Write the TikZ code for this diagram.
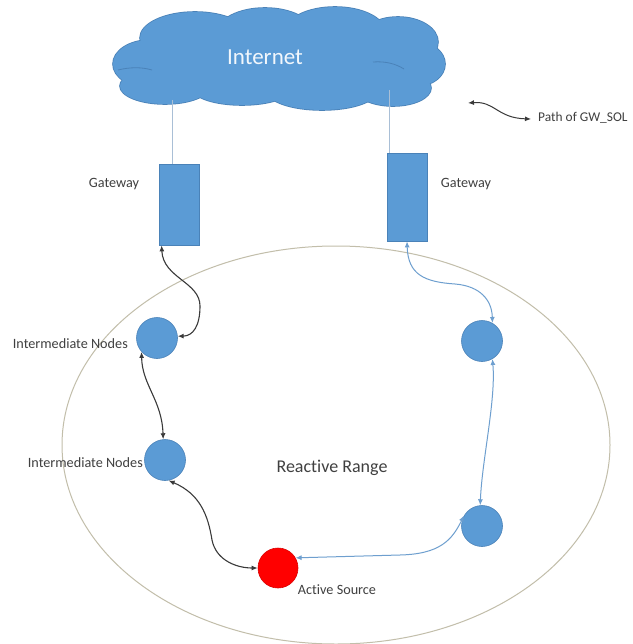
\documentclass[tikz,border=0pt]{standalone}
\usepackage{fontspec}
\setmainfont[Ligatures=NoCommon]{Carlito}
\usetikzlibrary{arrows.meta}
\definecolor{obl}{HTML}{5B9BD5}
\definecolor{obd}{HTML}{4A82B8}
\definecolor{lnk}{HTML}{6E9FCF}
\definecolor{txt}{HTML}{404040}
\definecolor{rng}{HTML}{C2BEAA}
\definecolor{cl}{HTML}{A9BFD6}
\definecolor{blk}{HTML}{3A3A3A}
\tikzset{
  gw/.style={rectangle,fill=obl,draw=obd,line width=0.8pt,minimum width=40pt,inner sep=0pt},
  hop/.style={circle,fill=obl,draw=obd,line width=0.6pt,minimum size=41pt,inner sep=0pt},
  src/.style={circle,fill=red,draw=red!85!black,line width=0.6pt,minimum size=40pt,inner sep=0pt},
  lbl/.style={font=\fontsize{14.2}{15}\selectfont,text=txt,inner sep=0pt},
  blkarr/.style={draw=blk,line width=1.1pt,{Latex[length=6pt,width=5pt]}-{Latex[length=6pt,width=5pt]}},
  bluarr/.style={draw=lnk,line width=1pt,{Latex[length=6pt,width=5pt]}-{Latex[length=6pt,width=5pt]}},
  upl/.style={draw=cl,line width=1pt}
}
\newcommand{\cloudlobes}[1]{%
  \path[#1] (150,64) ellipse [x radius=37, y radius=24];
  \path[#1] (165,86) ellipse [x radius=45, y radius=18];
  \path[#1] (195,38) ellipse [x radius=55, y radius=26];
  \path[#1] (265,33) ellipse [x radius=48, y radius=25];
  \path[#1] (335,32) ellipse [x radius=50, y radius=25];
  \path[#1] (398,42) ellipse [x radius=40, y radius=25];
  \path[#1] (417,64) ellipse [x radius=28, y radius=22];
  \path[#1] (393,88) ellipse [x radius=38, y radius=18];
  \path[#1] (322,91) ellipse [x radius=55, y radius=19];
  \path[#1] (242,88) ellipse [x radius=50, y radius=17];
  \path[#1] (280,62) ellipse [x radius=125, y radius=34];
}
\begin{document}
\begin{tikzpicture}[x=1pt,y=-1pt]
\useasboundingbox (0,0) rectangle (632,644);
\fill[white] (0,0) rectangle (632,644);
% reactive range
\draw[rng,line width=1pt] (336,445) ellipse [x radius=274, y radius=199];
% cloud
\cloudlobes{draw=obd,line width=1.6pt}
\cloudlobes{fill=obl}
\draw[obd,line width=0.8pt] (118,70) .. controls (130,67) and (142,67) .. (152,70);
\draw[obd,line width=0.8pt] (373,62) .. controls (386,61) and (396,64) .. (404,69);
\node[font=\fontsize{23}{24}\selectfont,text=white!92!obl,inner sep=0pt] (inet) at (265,57) {Internet};
% gateways
\node[gw,minimum height=81pt] (gwL) at (179,204.5) {};
\node[gw,minimum height=88pt] (gwR) at (407,197) {};
\coordinate (cL) at (172,100);
\coordinate (cR) at (389,90);
\draw[upl] (cL) -- (cL |- gwL.north);
\draw[upl] (cR) -- (cR |- gwR.north);
\node[lbl] (tgL) at (114,184) {Gateway};
\node[lbl] (tgR) at (466,184) {Gateway};
% hops
\node[hop] (in1) at (157,338) {};
\node[hop] (in2) at (165,460) {};
\node[hop] (rt) at (482,341) {};
\node[hop] (rb) at (482,526) {};
\node[src] (as) at (278,568) {};
\node[lbl,anchor=east] (tin1) at (128,344) {Intermediate Nodes};
\node[lbl,anchor=east] (tin2) at (143,463) {Intermediate Nodes};
\node[font=\fontsize{18}{20}\selectfont,text=txt,inner sep=0pt] (rr) at (332,468) {Reactive Range};
\node[lbl] (tas) at (337,590) {Active Source};
% black path
\draw[blkarr] ([xshift=3pt]gwL.south west) .. controls (163,278) and (200,282) .. (200,306) .. controls (200,326) and (193,336) .. (in1.5);
\draw[blkarr] (in1.222) .. controls (142,385) and (162,400) .. (in2.95);
\draw[blkarr] (in2.280) .. controls (200,494) and (208,515) .. (212,540) .. controls (216,560) and (236,568) .. (as.west);
% blue path
\draw[bluarr] (gwR.south) .. controls (408,275) and (425,282) .. (455,284) .. controls (480,286) and (492,300) .. (rt.60);
\draw[bluarr] (rt.300) .. controls (496,400) and (482,460) .. (rb.95);
\draw[bluarr] (rb.150) .. controls (452,540) and (440,554) .. (400,555) -- (as.30);
% legend
\coordinate (legA) at (468,103);
\coordinate (legB) at (531,119);
\draw[blkarr,line width=1pt] (legA) .. controls (495,101) and (497,118) .. (legB);
\node[lbl,font=\fontsize{13.4}{14}\selectfont,anchor=west] (tleg) at (538,118) {Path of GW\_SOL};
\end{tikzpicture}
\end{document}
